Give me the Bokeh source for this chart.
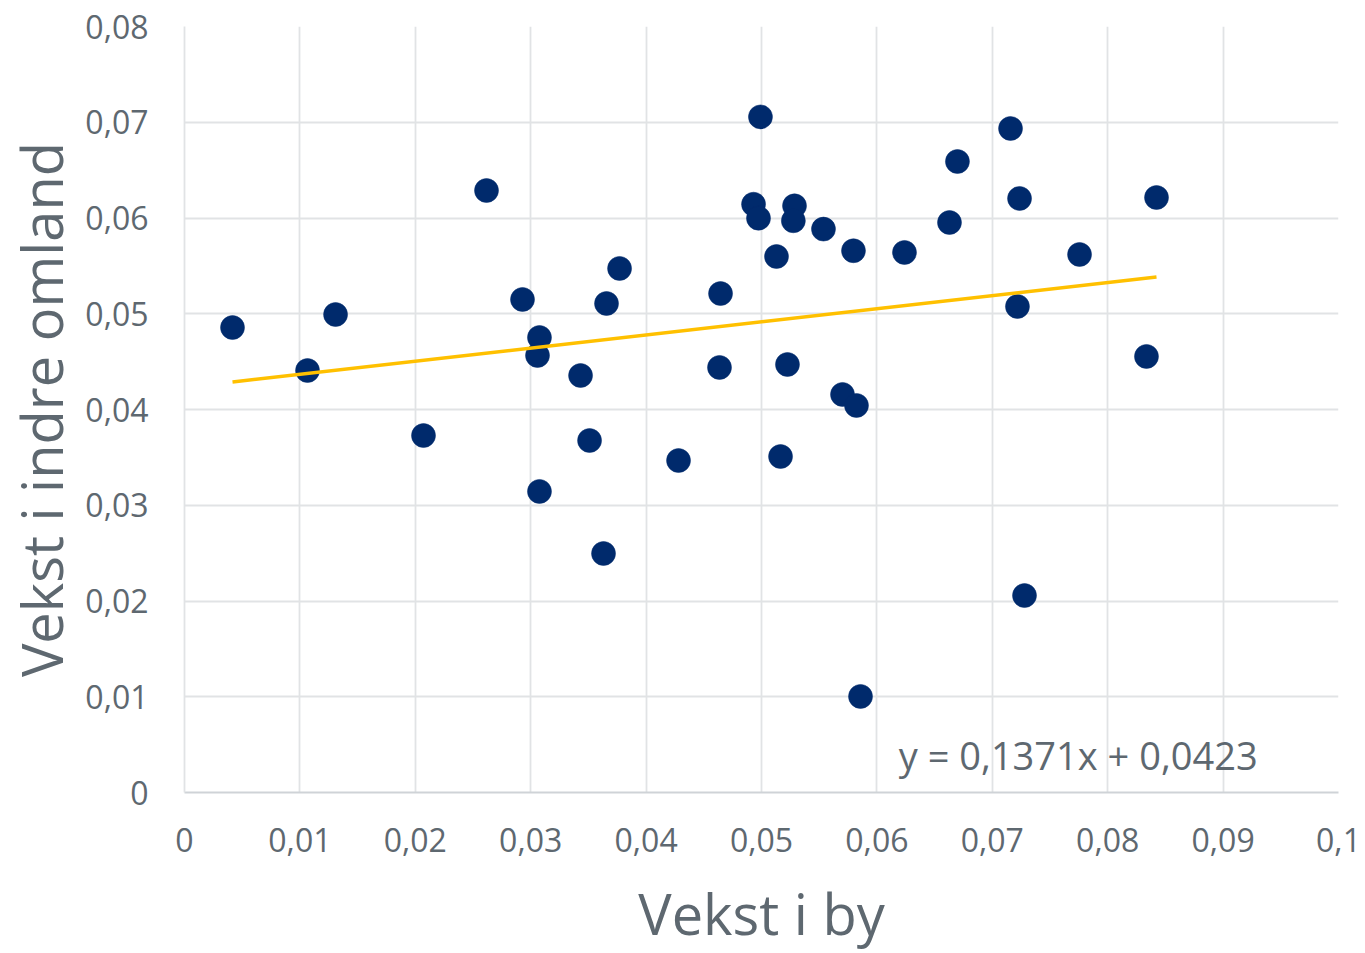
from bokeh.plotting import figure
from bokeh.models import FixedTicker, CustomJSTickFormatter, Label, Range1d
from bokeh.embed import file_html
from bokeh.resources import INLINE

# ---- data ----
vekst_by = [0.00416, 0.01066, 0.01309, 0.02071, 0.02617, 0.02929, 0.03076, 0.03059,
            0.03076, 0.03432, 0.03510, 0.03631, 0.03657, 0.03770, 0.04281, 0.04636,
            0.04645, 0.04931, 0.04974, 0.04991, 0.05130, 0.05165, 0.05225, 0.05286,
            0.05276, 0.05537, 0.05702, 0.05797, 0.05823, 0.05858, 0.06239, 0.06629,
            0.06698, 0.07158, 0.07218, 0.07236, 0.07279, 0.07756, 0.08336, 0.08423]
vekst_omland = [0.04856, 0.04407, 0.04992, 0.03728, 0.06287, 0.05149, 0.04752, 0.04564,
                0.03144, 0.04355, 0.03676, 0.02496, 0.05107, 0.05473, 0.03467, 0.04439,
                0.05211, 0.06144, 0.05998, 0.07056, 0.05598, 0.03509, 0.04470, 0.06127,
                0.05971, 0.05884, 0.04157, 0.05658, 0.04042, 0.01003, 0.05640, 0.05953,
                0.06590, 0.06935, 0.05076, 0.06204, 0.02057, 0.05619, 0.04554, 0.06214]
x_ticks = [0, 0.01, 0.02, 0.03, 0.04, 0.05, 0.06, 0.07, 0.08, 0.09, 0.1]
y_ticks = [0, 0.01, 0.02, 0.03, 0.04, 0.05, 0.06, 0.07, 0.08]
trend_slope = 0.1371
trend_intercept = 0.0423
trend_label = "y = 0,1371x + 0,0423"
x_title = "Vekst i by"
y_title = "Vekst i indre omland"

TEXT = "#5e6870"
GRID = "#e1e3e5"
FONT = "Open Sans"

p = figure(width=1365, height=953, output_backend="svg", toolbar_location=None,
           x_range=Range1d(x_ticks[0], x_ticks[-1]), y_range=Range1d(y_ticks[0], y_ticks[-1]),
           min_border_left=184, min_border_right=27, min_border_top=26, min_border_bottom=161)
p.outline_line_color = None
p.background_fill_color = "white"

fmt = CustomJSTickFormatter(code="return parseFloat(tick.toFixed(4)).toString().replace('.', ',');")

for ax, ticks in ((p.xaxis[0], x_ticks), (p.yaxis[0], y_ticks)):
    ax.ticker = FixedTicker(ticks=ticks)
    ax.formatter = fmt
    ax.major_tick_line_color = None
    ax.minor_tick_line_color = None
    ax.major_tick_out = 0
    ax.major_tick_in = 0
    ax.minor_tick_out = 0
    ax.minor_tick_in = 0
    ax.major_label_text_font = FONT
    ax.major_label_text_font_size = "32px"
    ax.major_label_text_color = TEXT
    ax.axis_label_text_font = FONT
    ax.axis_label_text_font_size = "56px"
    ax.axis_label_text_color = TEXT
    ax.axis_label_text_font_style = "normal"

p.xaxis.axis_label = x_title
p.yaxis.axis_label = y_title
p.xaxis.axis_line_color = "#cfd3d7"
p.xaxis.axis_line_width = 2
p.yaxis.axis_line_color = GRID
p.yaxis.axis_line_width = 1.8
p.xaxis.major_label_standoff = 35
p.yaxis.major_label_standoff = 36
p.xaxis.axis_label_standoff = 20
p.yaxis.axis_label_standoff = 3

p.xgrid.grid_line_color = GRID
p.ygrid.grid_line_color = GRID
p.xgrid.grid_line_width = 1.8
p.ygrid.grid_line_width = 1.8
p.xgrid.ticker = FixedTicker(ticks=x_ticks)
p.ygrid.ticker = FixedTicker(ticks=y_ticks)

p.scatter(vekst_by, vekst_omland, size=24, fill_color="#002a6c", line_color="#002a6c",
          line_width=0.5)

tx = [min(vekst_by), max(vekst_by)]
ty = [trend_slope * v + trend_intercept for v in tx]
p.line(tx, ty, line_color="#ffc000", line_width=3.5)

p.add_layout(Label(x=0.0619, y=0.0039, text=trend_label, text_font=FONT,
                   text_font_size="38px", text_color=TEXT, text_baseline="middle"))

open("out.html", "w").write(file_html(p, INLINE))
